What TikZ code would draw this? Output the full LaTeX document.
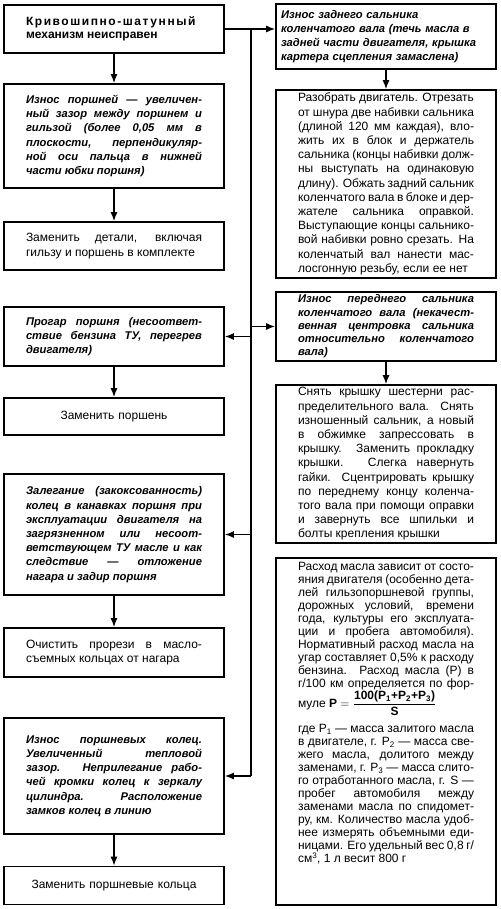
\documentclass[tikz,border=0pt]{standalone}
\usepackage{fontspec}
\usepackage{amsmath}
\setmainfont{Liberation Sans}
\usetikzlibrary{arrows.meta}
\tikzset{
  >={Latex[length=9pt,width=7pt]},
}
\tikzstyle{box}=[draw,line width=1.6pt,text width=176pt,inner xsep=22pt,inner ysep=2pt,align=justify,font=\fontsize{12}{14.2}\selectfont]
\tikzstyle{cause}=[box,font=\fontsize{11.2}{14.2}\selectfont\bfseries\itshape]
\tikzstyle{link}=[line width=1.4pt,->]
\tolerance=10000

\begin{document}
\begin{tikzpicture}[x=1pt,y=-1pt]
    \useasboundingbox (0,0) rectangle (500,909);
    % left column
    \node[box,font=\fontsize{12}{13}\selectfont\bfseries,minimum height=48pt] (title) at (114,29)
    {{\addfontfeature{LetterSpace=13}Кривошипно-шатунный}\linebreak механизм неисправен};
    \node[cause,minimum height=104pt] (b2) at (114,136)
    {Износ поршней — увеличен-\linebreak ный зазор между поршнем и\linebreak гильзой (более 0,05 мм в\linebreak плоскости, перпендикуляр-\linebreak ной оси пальца в нижней\linebreak части юбки поршня)};
    \node[box,minimum height=48pt] (b3) at (114,246)
    {Заменить детали, включая\linebreak гильзу и поршень в комплекте};
    \node[cause,minimum height=59pt] (b4) at (114,336.5)
    {Прогар поршня (несоответ-\linebreak ствие бензина ТУ, перегрев\linebreak двигателя)};
    \node[box,align=center,minimum height=37pt] (b5) at (114,416.5) {Заменить поршень};
    \node[cause,minimum height=121pt] (b6) at (114,534.5)
    {Залегание (закоксованность)\linebreak колец в канавках поршня при\linebreak эксплуатации двигателя на\linebreak загрязненном или несоот-\linebreak ветствующем ТУ масле и как\linebreak следствие — отложение\linebreak нагара и задир поршня};
    \node[box,minimum height=49pt] (b7) at (114,652.5)
    {Очистить прорези в масло-\linebreak съемных кольцах от нагара};
    \node[cause,minimum height=116pt] (b8) at (114,776)
    {Износ поршневых колец.\linebreak Увеличенный тепловой\linebreak зазор. Неприлегание рабо-\linebreak чей кромки колец к зеркалу\linebreak цилиндра. Расположение\linebreak замков колец в линию};
    \node[box,align=center,minimum height=38pt] (b9) at (114,885.5) {Заменить поршневые кольца};

    % right column
    \node[cause,align=left,text width=210pt,inner xsep=5pt,minimum height=65pt] (r1) at (386,36.5)
    {Износ заднего сальника\\ коленчатого вала (течь масла в\\ задней части двигателя, крышка\\ картера сцепления замаслена)};
    \node[box,minimum height=188pt] (r2) at (386,184)
    {Разобрать двигатель. Отрезать\linebreak от шнура две набивки сальника\linebreak (длиной 120 мм каждая), вло-\linebreak жить их в блок и держатель\linebreak сальника (концы набивки долж-\linebreak ны выступать на одинаковую\linebreak длину). Обжать задний сальник\linebreak коленчатого вала в блоке и дер-\linebreak жателе сальника оправкой.\linebreak Выступающие концы сальнико-\linebreak вой набивки ровно срезать. На\linebreak коленчатый вал нанести мас-\linebreak лосгонную резьбу, если ее нет};
    \node[cause,font=\fontsize{11.2}{13.3}\selectfont\bfseries\itshape,minimum height=69pt] (r3) at (386,326.5)
    {Износ переднего сальника\linebreak коленчатого вала (некачест-\linebreak венная центровка сальника\linebreak относительно коленчатого\linebreak вала)};
    \node[box,minimum height=158pt] (r4) at (386,464)
    {Снять крышку шестерни рас-\linebreak пределительного вала. Снять\linebreak изношенный сальник, а новый\linebreak в обжимке запрессовать в\linebreak крышку. Заменить прокладку\linebreak крышки. Слегка навернуть\linebreak гайки. Сцентрировать крышку\linebreak по переднему концу коленча-\linebreak того вала при помощи оправки\linebreak и завернуть все шпильки и\linebreak болты крепления крышки};
    \node[box,font=\fontsize{12}{13}\selectfont,anchor=north,inner ysep=4pt,text depth=331pt] (r5) at (386,557)
    {Расход масла зависит от состо-\linebreak яния двигателя (особенно дета-\linebreak лей гильзопоршневой группы,\linebreak дорожных условий, времени\linebreak года, культуры его эксплуата-\linebreak ции и пробега автомобиля).\linebreak Нормативный расход масла на\linebreak угар составляет 0,5\% к расходу\linebreak бензина. Расход масла (Р) в\linebreak г/100 км определяется по фор-\linebreak муле \textbf{P} $=\dfrac{\text{\bfseries 100(P\textsubscript{1}+P\textsubscript{2}+P\textsubscript{3})}}{\text{\bfseries S}}$\par\vspace{8pt}
    где P\textsubscript{1} — масса залитого масла\linebreak в двигателе, г. P\textsubscript{2} — масса све-\linebreak жего масла, долитого между\linebreak заменами, г. P\textsubscript{3} — масса слито-\linebreak го отработанного масла, г. S —\linebreak пробег автомобиля между\linebreak заменами масла по спидомет-\linebreak ру, км. Количество масла удоб-\linebreak нее измерять объемными еди-\linebreak ницами. Его удельный вес 0,8 г/\linebreak см\textsuperscript{3}, 1 л весит 800 г};

    % connectors
    \path (title.east) ++(26,0) coordinate (split);
    \draw[link] (title.east) -- (title.east -| r1.west);
    \draw[line width=1.4pt] (split) -- (split |- b8.east);
    \draw[link] (split |- b4.east) -- (b4.east);
    \draw[link] (split |- b6.east) -- (b6.east);
    \draw[link] (split |- b8.east) -- (b8.east);
    \draw[link] (split |- r3.west) -- (r3.west);
    \draw[link] (title) -- (b2);
    \draw[link] (b2) -- (b3);
    \draw[link] (b4) -- (b5);
    \draw[link] (b6) -- (b7);
    \draw[link] (b8) -- (b9);
    \draw[link] (r1.south -| r2) -- (r2);
    \draw[link] (r3) -- (r4);
\end{tikzpicture}
\end{document}
